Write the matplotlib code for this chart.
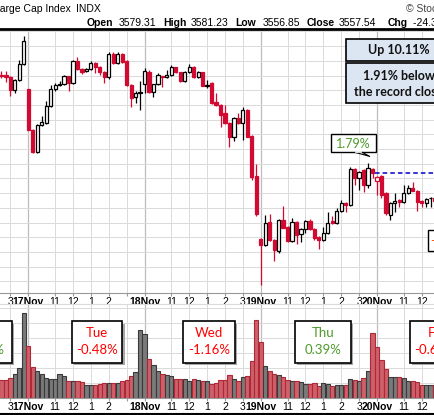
import matplotlib
matplotlib.use("Agg")
import matplotlib.pyplot as plt
from matplotlib.patches import Rectangle, Polygon

plt.rcParams['font.family'] = ['Liberation Sans', 'DejaVu Sans']

# S&P 500, 15-minute bars (16Nov tail + 17Nov..20Nov 2020)
days = ['16Nov', '17Nov', '18Nov', '19Nov', '20Nov']
first_slot = [20, 0, 0, 0, 0]

# (open, high, low, close) per 15-min bar
ohlc_16 = [(3615.2, 3616.7, 3614.2, 3614.9), (3615.2, 3616.6, 3612.8, 3614.5),
           (3614.5, 3614.8, 3608.1, 3610.1), (3610.1, 3613.8, 3609.1, 3613.5),
           (3613.5, 3620.4, 3613.2, 3618.9), (3618.9, 3628.5, 3618.5, 3626.9)]
ohlc_17 = [(3610.3, 3610.5, 3596.4, 3596.6), (3596.6, 3597.0, 3588.7, 3588.9),
           (3588.9, 3598.6, 3588.7, 3598.3), (3598.3, 3601.2, 3597.8, 3599.1),
           (3598.9, 3606.3, 3598.5, 3604.6), (3604.6, 3611.9, 3604.3, 3610.5),
           (3610.5, 3612.6, 3609.8, 3611.7), (3611.7, 3613.1, 3611.3, 3612.1),
           (3612.1, 3615.2, 3611.8, 3614.8), (3614.8, 3615.0, 3609.7, 3612.5),
           (3612.5, 3620.3, 3612.2, 3619.9), (3619.9, 3621.2, 3617.0, 3617.3),
           (3617.3, 3617.6, 3615.6, 3616.2), (3616.5, 3617.6, 3616.2, 3617.3),
           (3617.3, 3619.9, 3617.0, 3619.2), (3619.2, 3619.5, 3615.9, 3618.0),
           (3618.0, 3618.3, 3615.3, 3616.2), (3616.2, 3616.5, 3612.5, 3614.4),
           (3614.4, 3623.1, 3614.0, 3622.5), (3622.5, 3623.0, 3618.8, 3619.2),
           (3619.2, 3623.0, 3618.9, 3622.5), (3622.5, 3622.8, 3619.2, 3619.6),
           (3620.1, 3620.4, 3611.4, 3611.8), (3611.8, 3612.3, 3604.4, 3607.3),
           (3607.6, 3609.6, 3605.7, 3609.0), (3609.0, 3613.3, 3603.3, 3609.5)]
ohlc_18 = [(3612.1, 3617.5, 3609.1, 3616.6), (3616.1, 3616.8, 3609.0, 3609.5),
           (3609.5, 3612.3, 3607.8, 3612.0), (3612.0, 3615.8, 3611.7, 3615.3),
           (3614.9, 3615.0, 3611.2, 3614.4), (3614.6, 3616.9, 3614.2, 3615.3),
           (3615.3, 3618.6, 3615.0, 3617.8), (3617.8, 3618.0, 3615.8, 3616.1),
           (3616.1, 3616.3, 3612.9, 3613.2), (3613.2, 3616.5, 3612.8, 3616.2),
           (3616.2, 3618.9, 3616.0, 3617.8), (3617.8, 3618.1, 3614.1, 3614.6),
           (3614.6, 3616.4, 3614.3, 3616.1), (3616.1, 3616.3, 3611.3, 3611.6),
           (3611.8, 3613.5, 3610.7, 3611.6), (3612.4, 3612.9, 3605.5, 3605.8),
           (3606.1, 3609.0, 3604.8, 3605.0), (3605.0, 3605.2, 3597.6, 3601.6),
           (3602.2, 3605.0, 3598.7, 3599.0), (3599.0, 3599.2, 3590.8, 3594.2),
           (3594.2, 3600.8, 3592.9, 3600.5), (3600.5, 3602.4, 3598.5, 3598.8),
           (3598.8, 3604.4, 3593.1, 3603.3), (3603.3, 3603.6, 3594.0, 3594.2),
           (3594.5, 3594.8, 3579.5, 3580.6), (3580.9, 3584.9, 3567.3, 3567.8)]
ohlc_19 = [(3559.4, 3559.6, 3543.8, 3557.4), (3557.4, 3567.6, 3557.0, 3564.8),
           (3565.1, 3567.9, 3558.8, 3559.1), (3559.1, 3559.4, 3551.9, 3555.7),
           (3555.4, 3566.2, 3554.8, 3565.9), (3565.9, 3570.7, 3563.0, 3563.3),
           (3563.6, 3564.0, 3558.5, 3558.8), (3558.8, 3566.5, 3558.5, 3565.1),
           (3565.1, 3565.4, 3557.6, 3560.8), (3561.1, 3563.3, 3558.5, 3562.7),
           (3562.7, 3565.8, 3561.4, 3565.5), (3565.5, 3566.2, 3562.4, 3562.7),
           (3562.7, 3563.0, 3559.1, 3559.7), (3560.0, 3560.3, 3556.0, 3559.1),
           (3559.1, 3563.6, 3558.8, 3561.4), (3561.4, 3568.7, 3561.1, 3565.0),
           (3565.6, 3567.2, 3564.5, 3564.8), (3564.8, 3569.9, 3564.5, 3568.9),
           (3568.9, 3572.7, 3568.6, 3571.6), (3571.6, 3571.9, 3568.7, 3570.9),
           (3571.0, 3584.0, 3570.7, 3583.1), (3583.1, 3583.4, 3577.8, 3580.1),
           (3580.1, 3582.6, 3576.1, 3582.3), (3582.9, 3583.2, 3575.5, 3577.8),
           (3577.8, 3585.2, 3576.8, 3583.5), (3583.1, 3583.4, 3580.2, 3581.9)]
ohlc_20 = [(3579.3, 3580.9, 3574.4, 3580.6), (3580.9, 3581.2, 3573.4, 3574.4),
           (3575.0, 3575.5, 3567.6, 3568.2), (3567.6, 3572.1, 3565.9, 3571.8),
           (3571.8, 3575.0, 3568.6, 3572.3), (3572.7, 3573.0, 3570.3, 3572.1),
           (3572.1, 3577.8, 3571.8, 3575.0), (3575.0, 3577.8, 3574.7, 3576.7),
           (3576.7, 3578.9, 3575.6, 3575.9), (3575.7, 3576.0, 3568.9, 3572.1),
           (3572.3, 3572.6, 3570.2, 3571.6), (3571.6, 3573.2, 3570.4, 3572.9),
           (3573.5, 3573.8, 3570.4, 3573.2), (3573.2, 3573.6, 3572.0, 3572.4)]

# volume, millions of shares
vol_16 = [92, 92, 100, 122, 150, 425]
vol_17 = [262, 153, 133, 122, 100, 95, 95, 120, 108, 87, 87, 87, 78, 65, 65, 65,
          72, 75, 75, 75, 75, 87, 92, 112, 128, 338]
vol_18 = [322, 195, 167, 137, 122, 115, 108, 95, 95, 95, 83, 95, 88, 87, 83, 72,
          75, 92, 92, 115, 97, 87, 105, 112, 183, 392]
vol_19 = [278, 162, 133, 122, 117, 105, 92, 87, 87, 78, 72, 72, 75, 62, 75, 70,
          62, 65, 65, 67, 95, 92, 87, 100, 137, 325]
vol_20 = [255, 188, 145, 105, 105, 105, 100, 87, 83, 80, 65, 65, 65, 65]

day_names = ['Mon', 'Tue', 'Wed', 'Thu', 'Fri']
day_chg = [1.16, -0.48, -1.16, 0.39, -0.68]

hour_slots = [6, 10, 14, 18, 22]
hour_labels = ['11', '12', '1', '2', '3']

RED = '#D20A32'
VRED, VRED_E = '#CD6068', '#B02838'
VGRAY, VGRAY_E = '#7A7A7A', '#3A3A3A'
GREEN = '#4C9A2A'

# flatten
bars, vols, pos = [], [], []
for d, (rows, vv) in enumerate(zip([ohlc_16, ohlc_17, ohlc_18, ohlc_19, ohlc_20],
                                   [vol_16, vol_17, vol_18, vol_19, vol_20])):
    for k, (row, v) in enumerate(zip(rows, vv)):
        bars.append(row)
        vols.append(v)
        pos.append(d * 26 + first_slot[d] + k)

fig = plt.figure(figsize=(4.35, 4.15), dpi=100)
W, H = 435, 415


def rect(top, bottom):
    return [0, 1 - bottom / H, 1, (bottom - top) / H]


ax = fig.add_axes(rect(29, 293))
axv = fig.add_axes(rect(304, 398))
xlim = (19.67, 116.98)

# ticks (only those inside the visible window)
ticks, labels, bold = [], [], []
for d, name in enumerate(days):
    for s, lab, b in [(0, name, True)] + [(s, l, False) for s, l in zip(hour_slots, hour_labels)]:
        t = d * 26 + s
        if xlim[0] <= t <= xlim[1]:
            ticks.append(t); labels.append(lab); bold.append(b)

for a in (ax, axv):
    for t, b in zip(ticks, bold):
        a.axvline(t, color='#BDBDBD' if b else '#DADADA', lw=0.9 if b else 0.7, zorder=0)
    a.set_xticks(ticks)
    shown = ['' if (lab == '3' and t == 26 + 22) else lab for t, lab in zip(ticks, labels)]
    a.set_xticklabels(shown, fontsize=7.5)
    for tl, b in zip(a.get_xticklabels(), bold):
        if b:
            tl.set_fontweight('bold')
    a.set_xlim(*xlim)
    a.tick_params(axis='x', length=2, color='#999999', pad=1)
    a.set_yticks([])
    for s in ('left', 'right'):
        a.spines[s].set_visible(False)
    a.spines['bottom'].set_color('#999999')
    a.spines['bottom'].set_linestyle((0, (1, 1)))

ax.spines['top'].set_linewidth(2)
ax.spines['top'].set_color('black')
axv.spines['top'].set_color('#DADADA')

# price panel
ax.set_ylim(3541.05, 3630.85)
for g in range(3545, 3631, 5):
    ax.axhline(g, color='#DADADA', lw=0.7, zorder=0)

prev = None
for x, (o, h, l, c) in zip(pos, bars):
    ref = o if prev is None else prev
    col = RED if c < ref else 'black'
    filled = c < o
    ax.vlines(x, l, h, color=col, lw=0.9, zorder=2)
    ax.bar(x, max(abs(c - o), 0.001), bottom=min(o, c), width=0.72,
           facecolor=col if filled else 'white', edgecolor=col, lw=0.9, zorder=3)
    prev = c

# prior close line on last day
last_prev = ohlc_19[-1][3]
ax.hlines(last_prev, 4 * 26 - 0.5, xlim[1], color='#0000CC', lw=1.1,
          linestyles=(0, (3, 2)), zorder=4)
ax.set_xlim(*xlim)

# volume panel
axv.set_ylim(0, 470)
for g in range(75, 470, 75):
    axv.axhline(g, color='#DADADA', lw=0.7, zorder=0)
prev = None
for x, (o, h, l, c), v in zip(pos, bars, vols):
    ref = o if prev is None else prev
    down = c < ref
    axv.bar(x, v, width=0.95, facecolor=VRED if down else VGRAY,
            edgecolor=VRED_E if down else VGRAY_E, lw=0.8, zorder=2)
    prev = c
axv.set_xlim(*xlim)

# overlay for header and callouts (pixel coords)
ov = fig.add_axes([0, 0, 1, 1], zorder=10)
ov.set_xlim(0, W); ov.set_ylim(H, 0); ov.axis('off')
ov.patch.set_alpha(0)

ov.text(-6, 9, 'Large Cap Index', fontsize=7.5, va='center')
ov.text(76, 9, 'INDX', fontsize=7.5, va='center')
ov.text(406, 9, '\u00a9 StockCharts.com', fontsize=7.5, va='center', color='#444444')
hdr = [(87, 'Open', True), (119, '3579.31', False), (163, 'High', True),
       (190.5, '3581.23', False), (235.5, 'Low', True), (262.5, '3556.85', False),
       (307, 'Close', True), (339, '3557.54', False), (387.5, 'Chg', True),
       (413, '-24.33 (-0.68%)', False)]
for x, s, b in hdr:
    ov.text(x, 22.5, s, fontsize=7.5, va='center', fontweight='bold' if b else 'normal')
ov.plot([0, W], [413.5, 413.5], color='black', lw=1.5)

# record boxes
for y0, y1 in [(39.3, 60.7), (63.3, 102.7)]:
    ov.add_patch(Rectangle((345.7, y0), 106, y1 - y0, facecolor='#DCE6F2',
                           edgecolor='black', lw=1.2))
ov.text(398.5, 50, 'Up 10.11%', family=['Lato', 'DejaVu Sans'], fontsize=9,
        fontweight='bold', ha='center', va='center', color='#111111')
ov.text(398.5, 75.5, '1.91% below', family=['Lato', 'DejaVu Sans'], fontsize=9,
        fontweight='bold', ha='center', va='center', color='#111111')
ov.text(398.5, 92.5, 'the record close', family=['Lato', 'DejaVu Sans'], fontsize=9,
        fontweight='bold', ha='center', va='center', color='#111111')

# 1.79% callout
ov.add_patch(Rectangle((331, 134.3), 44.7, 18, facecolor='white', edgecolor='black', lw=1.0))
ov.add_patch(Polygon([(355, 152.3), (370, 156.5), (362, 152.3)], closed=True,
                     facecolor='white', edgecolor='black', lw=0.8))
ov.plot([355.6, 361.4], [152.3, 152.3], color='white', lw=1.2)
ov.text(353.4, 143.5, '1.79%', family=['Lato', 'DejaVu Sans'], fontsize=9,
        ha='center', va='center', color=GREEN)

# partial box at right edge
ov.add_patch(Rectangle((427.7, 230), 50, 20.7, facecolor='white', edgecolor='black', lw=1.0))
ov.text(430.5, 240.5, '-0.68%', family=['Lato', 'DejaVu Sans'], fontsize=9,
        va='center', color='#FF5000')

# daily change boxes in volume panel
box_x = [(-39, 11.7), (71.7, 122.3), (182.7, 235), (295, 351), (410, 461)]
for (x0, x1), name, chg in zip(box_x, day_names, day_chg):
    col = GREEN if chg > 0 else '#FF0000'
    ov.add_patch(Rectangle((x0 + 2.5, 323.5), x1 - x0, 41.7, facecolor='#A8A8A8',
                           edgecolor='none'))
    ov.add_patch(Rectangle((x0, 321), x1 - x0, 41.7, facecolor='white',
                           edgecolor='black', lw=1.2))
    cx = (x0 + x1) / 2
    ov.text(cx, 332.5, name, family=['Lato', 'DejaVu Sans'], fontsize=9.5,
            ha='center', va='center', color=col)
    ov.text(cx, 350.3, f'{chg:.2f}%', family=['Lato', 'DejaVu Sans'], fontsize=9.5,
            ha='center', va='center', color=col)

fig.savefig('out.png', dpi=100)
